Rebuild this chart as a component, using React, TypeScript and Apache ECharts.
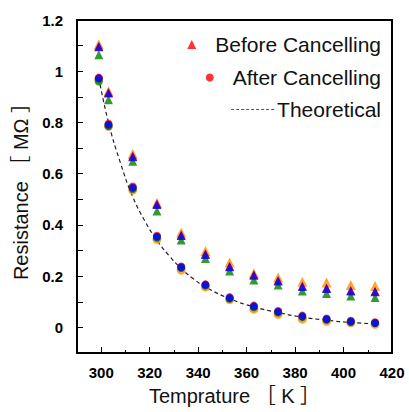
import React, { useEffect, useRef } from "react";
import * as echarts from "echarts";

const temps = [299, 303, 313, 323, 333, 343, 353, 363, 373, 383, 393, 403, 413];

const beforeOrange = [1.105, 0.922, 0.678, 0.487, 0.37, 0.298, 0.253, 0.211, 0.195, 0.178, 0.175, 0.165, 0.162];
const beforeRed = [1.098, 0.917, 0.669, 0.482, 0.361, 0.287, 0.239, 0.205, 0.183, 0.162, 0.154, 0.144, 0.141];
const beforeGreen = [1.064, 0.889, 0.649, 0.454, 0.341, 0.269, 0.22, 0.185, 0.165, 0.142, 0.132, 0.123, 0.117];
const beforeBlue = [1.096, 0.915, 0.666, 0.48, 0.359, 0.285, 0.237, 0.204, 0.181, 0.16, 0.152, 0.142, 0.139];

const afterOrange = [0.968, 0.785, 0.536, 0.344, 0.224, 0.158, 0.108, 0.071, 0.051, 0.032, 0.024, 0.018, 0.012];
const afterRed = [0.975, 0.795, 0.55, 0.358, 0.238, 0.168, 0.118, 0.085, 0.064, 0.046, 0.035, 0.026, 0.02];
const afterGreen = [0.96, 0.785, 0.54, 0.35, 0.232, 0.163, 0.112, 0.078, 0.058, 0.04, 0.03, 0.021, 0.016];
const afterBlue = [0.972, 0.791, 0.545, 0.354, 0.235, 0.166, 0.115, 0.082, 0.061, 0.043, 0.032, 0.023, 0.017];

const theoryTemps = [299, 303, 308, 313, 318, 323, 328, 333, 338, 343, 353, 363, 373, 383, 393, 403, 413];
const theory = [0.975, 0.8, 0.64, 0.51, 0.415, 0.34, 0.28, 0.23, 0.19, 0.158, 0.112, 0.08, 0.058, 0.04, 0.028, 0.019, 0.014];

const xMajorTicks = [300, 320, 340, 360, 380, 400];
const xMinorTicks = [310, 330, 350, 370, 390, 410];
const xLabels = [300, 320, 340, 360, 380, 400, 420];
const yLabels = [0, 0.2, 0.4, 0.6, 0.8, 1, 1.2];

const FONT = "'Liberation Sans', Arial, 'Noto Sans CJK JP', sans-serif";

const pts = (xs: number[], ys: number[]) => xs.map((x, i) => [x, ys[i]]);

export default function App() {
  const ref = useRef<HTMLDivElement>(null);
  useEffect(() => {
    if (!ref.current) return;
    const chart = echarts.init(ref.current, undefined, { renderer: "svg" });
    const tri = (name: string, color: string, data: number[], size = 9) => ({
      type: "scatter",
      name,
      symbol: "triangle",
      symbolSize: size,
      itemStyle: { color },
      data: pts(temps, data),
    });
    const dot = (name: string, color: string, data: number[], size = 8) => ({
      type: "scatter",
      name,
      symbol: "circle",
      symbolSize: size,
      itemStyle: { color },
      data: pts(temps, data),
    });
    chart.setOption({
      animation: false,
      grid: {
        left: 77,
        right: 17,
        top: 20,
        bottom: 59,
        show: true,
        borderColor: "#000",
        borderWidth: 2,
        backgroundColor: "transparent",
      },
      legend: [
        {
          data: ["Before Cancelling"],
          right: 28,
          top: 34,
          padding: 0,
          itemWidth: 9,
          itemHeight: 9,
          textStyle: { fontSize: 21, fontFamily: FONT, color: "#111", padding: [0, 0, 0, 14] },
        },
        {
          data: ["After Cancelling"],
          right: 28,
          top: 67,
          padding: 0,
          itemWidth: 8,
          itemHeight: 8,
          textStyle: { fontSize: 21, fontFamily: FONT, color: "#111", padding: [0, 0, 0, 14] },
        },
        {
          data: ["Theoretical"],
          right: 28,
          top: 99,
          padding: 0,
          itemWidth: 45,
          itemHeight: 12,
          itemGap: 0,
          itemStyle: { opacity: 0 },
          lineStyle: { type: [3, 2], width: 1, color: "#555" },
          textStyle: { fontSize: 21, fontFamily: FONT, color: "#111", padding: [0, 0, 0, -4] },
        },
      ],
      xAxis: [
        {
          type: "value",
          min: 290,
          max: 420,
          interval: 10,
          name: "Temprature ［ K ］",
          nameLocation: "middle",
          nameGap: 33,
          nameTextStyle: { fontSize: 20, fontFamily: FONT, color: "#111" },
          axisLine: { onZero: false, lineStyle: { color: "#000", width: 2 } },
          axisTick: { inside: true, length: 6, customValues: xMajorTicks, lineStyle: { color: "#000", width: 1 } },
          axisLabel: {
            customValues: xLabels,
            fontSize: 15,
            fontWeight: "bold",
            fontFamily: FONT,
            color: "#000",
            margin: 12,
          },
          splitLine: { show: false },
        },
        {
          type: "value",
          min: 290,
          max: 420,
          interval: 10,
          position: "bottom",
          axisLine: { show: false, onZero: false },
          axisTick: { inside: true, length: 3, customValues: xMinorTicks, lineStyle: { color: "#000", width: 1 } },
          axisLabel: { show: false },
          splitLine: { show: false },
        },
      ],
      yAxis: {
        type: "value",
        min: -0.1,
        max: 1.2,
        interval: 0.1,
        name: "Resistance ［ MΩ ］",
        nameLocation: "middle",
        nameGap: 44,
        nameTextStyle: { fontSize: 20, fontFamily: FONT, color: "#111" },
        axisLine: { onZero: false, lineStyle: { color: "#000", width: 2 } },
        axisTick: { inside: true, length: 6, lineStyle: { color: "#000", width: 1 } },
        axisLabel: {
          customValues: yLabels,
          formatter: (v: number) => String(Math.round(v * 10) / 10),
          fontSize: 15,
          fontWeight: "bold",
          fontFamily: FONT,
          color: "#000",
          margin: 14,
        },
        splitLine: { show: false },
      },
      series: [
        tri("Before (orange)", "#FF8C00", beforeOrange, 10),
        tri("Before Cancelling", "#FF0000", beforeRed),
        tri("Before (green)", "#008000", beforeGreen),
        tri("Before (blue)", "#0000FF", beforeBlue),
        dot("After (orange)", "#FF8C00", afterOrange, 9),
        dot("After Cancelling", "#FF0000", afterRed),
        dot("After (green)", "#008000", afterGreen),
        dot("After (blue)", "#0000FF", afterBlue),
        {
          type: "line",
          name: "Theoretical",
          symbol: "none",
          smooth: true,
          itemStyle: { color: "#222" },
          lineStyle: { type: [4, 3], width: 1.2, color: "#222" },
          data: pts(theoryTemps, theory),
          z: 1,
        },
      ],
    });
    return () => chart.dispose();
  }, []);
  return (
    <div
      ref={ref}
      style={{ position: "fixed", left: 0, top: 0, width: 409, height: 412, background: "#fff" }}
    />
  );
}
